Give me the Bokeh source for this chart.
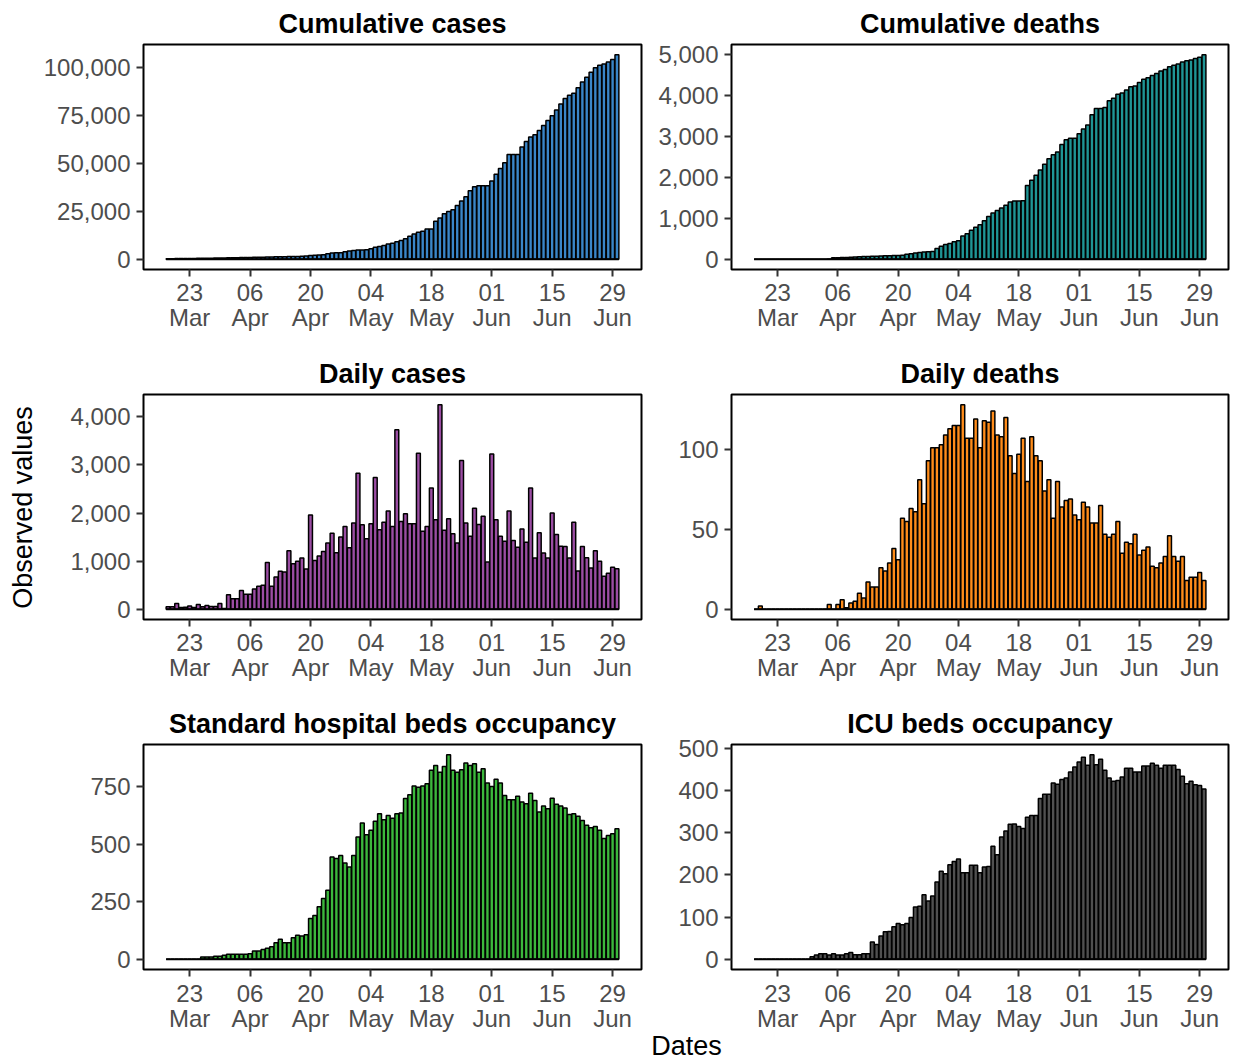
import math
import pandas as pd
from bokeh.plotting import figure
from bokeh.layouts import row, column
from bokeh.models import (FixedTicker, NumeralTickFormatter, DatetimeTickFormatter,
                          Range1d, ColumnDataSource)
from bokeh.core.properties import value
from bokeh.embed import file_html
from bokeh.resources import INLINE

# ---------------- data ----------------
dates = pd.date_range("2020-03-18", "2020-06-30", freq="D")
tick_dates = ["2020-03-23", "2020-04-06", "2020-04-20", "2020-05-04",
              "2020-05-18", "2020-06-01", "2020-06-15", "2020-06-29"]
tick_days = ["23", "06", "20", "04", "18", "01", "15", "29"]
tick_months = ["Mar", "Apr", "Apr", "May", "May", "Jun", "Jun", "Jun"]

cum_cases = [300, 320, 350, 380, 400, 420, 450, 480, 500, 520,
             550, 600, 650, 700, 750, 800, 850, 880, 900, 950,
             1000, 1050, 1100, 1150, 1200, 1250, 1300, 1350, 1400, 1450,
             1500, 1600, 1700, 2000, 2100, 2200, 2400, 2900, 3300, 3400,
             3400, 3900, 4300, 4600, 4800, 4800, 4900, 5500, 6200, 6700,
             7200, 7900, 8400, 9100, 9800, 10700, 12000, 13200, 14100, 14600,
             15800, 15800, 19800, 21500, 23700, 24900, 25800, 28000, 30400, 32600,
             35700, 37800, 38300, 38300, 38300, 40700, 44300, 47300, 50200, 54600,
             54600, 54600, 58400, 61300, 63600, 64800, 67000, 69600, 72200, 74700,
             77700, 80800, 83700, 85400, 86400, 89300, 92300, 94800, 97400, 99700,
             101000, 101700, 102700, 104000, 106500]

cum_deaths = [0, 2, 2, 2, 2, 2, 2, 2, 2, 2,
              2, 2, 2, 2, 2, 2, 2, 5, 35, 40,
              45, 45, 50, 55, 60, 65, 70, 75, 75, 80,
              85, 85, 90, 95, 100, 120, 135, 150, 165, 180,
              185, 190, 265, 320, 360, 385, 427, 450, 565, 620,
              710, 780, 845, 940, 1045, 1130, 1190, 1250, 1320, 1400,
              1420, 1420, 1430, 1800, 1930, 2050, 2175, 2320, 2455, 2550,
              2615, 2800, 2915, 2955, 2955, 3060, 3180, 3275, 3525, 3680,
              3680, 3705, 3865, 3930, 4025, 4058, 4130, 4210, 4228, 4310,
              4390, 4430, 4485, 4533, 4590, 4630, 4694, 4735, 4765, 4815,
              4845, 4863, 4895, 4930, 4990]

daily_cases = [50, 50, 120, 35, 40, 70, 35, 100, 50, 80,
               60, 60, 120, 15, 300, 220, 220, 390, 310, 310,
               420, 480, 500, 970, 480, 670, 790, 775, 1215, 945,
               1000, 1065, 835, 1960, 1015, 1105, 1200, 1375, 1580, 1175,
               1500, 1720, 1280, 1790, 2825, 1755, 1465, 1775, 2740, 1650,
               1810, 2040, 1720, 3730, 1825, 1985, 1775, 1775, 3240, 1620,
               1720, 2520, 1860, 4250, 1640, 1880, 1570, 1375, 3090, 1790,
               1515, 2100, 1760, 1935, 980, 3225, 1860, 1515, 1415, 2040,
               1430, 1290, 1670, 1395, 2520, 1065, 1590, 1170, 1065, 2000,
               1555, 1310, 1305, 1065, 1810, 795, 1305, 1070, 855, 1215,
               1000, 685, 750, 875, 840]

daily_deaths = [0, 2, 0, 0, 0, 0, 0, 0, 0, 0,
                0, 0, 0, 0, 0, 0, 0, 3, 0, 3,
                6, 1, 4, 5, 10, 7, 17, 14, 14, 26,
                24, 29, 38, 31, 57, 55, 63, 61, 81, 66,
                93, 101, 101, 103, 109, 113, 115, 115, 128, 107,
                107, 119, 101, 118, 117, 124, 109, 108, 120, 96,
                85, 97, 107, 80, 108, 96, 93, 74, 81, 57,
                80, 64, 68, 69, 59, 56, 67, 64, 54, 54,
                65, 47, 45, 47, 55, 35, 42, 41, 47, 34,
                37, 39, 27, 26, 29, 33, 46, 33, 30, 33,
                18, 20, 20, 23, 18]

std_beds = [0, 0, 0, 0, 0, 0, 0, 0, 10, 10,
            10, 13, 13, 17, 22, 22, 22, 22, 22, 24,
            36, 36, 43, 48, 54, 72, 87, 72, 72, 94,
            104, 101, 107, 177, 191, 228, 264, 300, 445, 438,
            452, 419, 401, 452, 532, 593, 542, 561, 601, 633,
            607, 626, 614, 633, 636, 699, 716, 754, 749, 754,
            764, 822, 843, 814, 839, 890, 822, 814, 825, 854,
            843, 851, 814, 829, 767, 752, 783, 767, 713, 694,
            694, 709, 684, 677, 722, 691, 641, 667, 655, 701,
            675, 667, 658, 630, 633, 622, 604, 583, 572, 578,
            561, 525, 539, 546, 568]

icu_beds = [0, 0, 0, 0, 0, 0, 0, 0, 0, 0,
            0, 0, 0, 6, 10, 13, 13, 10, 13, 10,
            10, 13, 16, 11, 11, 13, 13, 41, 35, 55,
            65, 66, 77, 85, 82, 85, 99, 124, 126, 153,
            138, 150, 183, 209, 203, 224, 232, 238, 205, 205,
            223, 223, 205, 219, 220, 268, 248, 290, 304, 320,
            321, 315, 310, 337, 341, 341, 381, 391, 391, 418,
            415, 426, 430, 444, 456, 468, 479, 460, 485, 461,
            474, 448, 430, 422, 424, 432, 453, 453, 444, 444,
            458, 458, 465, 460, 453, 460, 460, 460, 450, 434,
            416, 422, 414, 412, 404]

titles = ["Cumulative cases", "Cumulative deaths", "Daily cases",
          "Daily deaths", "Standard hospital beds occupancy", "ICU beds occupancy"]
series = [cum_cases, cum_deaths, daily_cases, daily_deaths, std_beds, icu_beds]
colors = ["#3A86C8", "#1F9595", "#9B4DA3", "#FF8C1A", "#3CB83C", "#505050"]
y_ticks = [[0, 25000, 50000, 75000, 100000],
           [0, 1000, 2000, 3000, 4000, 5000],
           [0, 1000, 2000, 3000, 4000],
           [0, 50, 100],
           [0, 250, 500, 750],
           [0, 100, 200, 300, 400, 500]]

FONT = "Liberation Sans"
TICK_COLOR = "#4D4D4D"
DAY_MS = 86400000
BAR_W = 0.9 * DAY_MS
HALF = pd.Timedelta(hours=10.8)
tick_ms = [pd.Timestamp(d).value // 10**6 for d in tick_dates]
fmt = "%d\n%b"
blank = ""

# x range: bar extent plus 5 % on each side (as in the original)
x_lo = (dates[0].value // 10**6) - BAR_W / 2
x_hi = (dates[-1].value // 10**6) + BAR_W / 2
x_pad = 0.05 * (x_hi - x_lo)
X_START, X_END = x_lo - x_pad, x_hi + x_pad
X_SPAN = X_END - X_START

# layout geometry (pixels)
FRAME_H = 225
TOP_B = 44
MID_B = 81
BOT_B = 12          # bottom row: only tick marks, labels drawn in the strip below
STRIP_H = 1061 - (700 + TOP_B + FRAME_H + BOT_B)
GRID_H = 1061
L_FW, L_BL, L_BR = 498, 103, 4
R_FW, R_BL, R_BR = 497, 86, 6


def panel(k):
    left_col = (k % 2 == 0)
    bottom_row = (k >= 4)
    fw = L_FW if left_col else R_FW
    ymax = max(series[k])
    p = figure(x_axis_type="datetime", output_backend="svg", toolbar_location=None,
               title=titles[k],
               x_range=Range1d(X_START, X_END),
               y_range=Range1d(-0.05 * ymax, 1.05 * ymax),
               frame_width=fw, frame_height=FRAME_H,
               min_border_left=L_BL if left_col else R_BL,
               min_border_right=L_BR if left_col else R_BR,
               min_border_top=TOP_B,
               min_border_bottom=BOT_B if bottom_row else MID_B)
    src = ColumnDataSource(dict(x=dates, y=series[k]))
    p.vbar(x="x", top="y", bottom=0, width=BAR_W, source=src,
           fill_color=colors[k], line_color="black", line_width=1.5)
    # bottom edge of the bar row (zero-height bars show as a line in the original)
    base = ColumnDataSource(dict(x0=[dates[0] - HALF], x1=[dates[-1] + HALF],
                                 y0=[0], y1=[0]))
    p.segment(x0="x0", x1="x1", y0="y0", y1="y1", source=base,
              line_color="black", line_width=2)
    p.title.align = "center"
    p.title.text_font = FONT
    p.title.text_font_size = "27px"
    p.title.text_font_style = "bold"
    p.title.text_color = "black"
    p.title.standoff = 11
    p.xaxis.ticker = FixedTicker(ticks=tick_ms)
    f = blank if bottom_row else fmt
    p.xaxis.formatter = DatetimeTickFormatter(
        microseconds=f, milliseconds=f, seconds=f, minsec=f, minutes=f,
        hourmin=f, hours=f, days=f, months=f, years=f)
    p.yaxis.ticker = FixedTicker(ticks=y_ticks[k])
    p.yaxis.formatter = NumeralTickFormatter(format="0,0")
    for ax in (p.xaxis[0], p.yaxis[0]):
        ax.axis_line_color = None
        ax.major_tick_line_color = "#333333"
        ax.major_tick_line_width = 2
        ax.major_tick_in = 0
        ax.major_tick_out = 7
        ax.minor_tick_line_color = None
        ax.major_label_text_font = FONT
        ax.major_label_text_font_size = "24px"
        ax.major_label_text_color = TICK_COLOR
        ax.major_label_text_line_height = 0.93
    p.xaxis.major_label_standoff = 2
    p.yaxis.major_label_standoff = 6
    if bottom_row:
        p.xaxis.major_label_text_font_size = "1px"
        p.xaxis.major_label_standoff = 0
    p.grid.visible = False
    p.outline_line_color = "black"
    p.outline_line_width = 2
    p.outline_line_alpha = 1.0
    p.background_fill_color = "white"
    p.border_fill_color = "white"
    return p


figs = [panel(k) for k in range(6)]


def strip(left_col):
    # label strip under the bottom row, sharing the panel's date scale
    if left_col:
        fw, bl, br = L_FW, L_BL, L_BR
    else:
        fw, bl, br = R_FW, R_BL, R_BR
    ms_per_px = X_SPAN / fw
    s = figure(frame_width=bl + fw + br, frame_height=STRIP_H,
               x_range=Range1d(X_START - bl * ms_per_px, X_END + br * ms_per_px),
               y_range=Range1d(0, STRIP_H), min_border=0, toolbar_location=None,
               output_backend="svg", x_axis_type=None, y_axis_type=None)
    s.outline_line_color = None
    s.grid.visible = False
    s.background_fill_color = "white"
    s.border_fill_color = "white"
    lab = ColumnDataSource(dict(x=tick_ms, d=tick_days, m=tick_months,
                                yd=[STRIP_H - 12] * len(tick_ms),
                                ym=[STRIP_H - 37] * len(tick_ms)))
    s.text(x="x", y="yd", text="d", source=lab, text_align="center",
           text_baseline="middle", text_font=value(FONT), text_font_size="24px",
           text_color=TICK_COLOR)
    s.text(x="x", y="ym", text="m", source=lab, text_align="center",
           text_baseline="middle", text_font=value(FONT), text_font_size="24px",
           text_color=TICK_COLOR)
    if not left_col:
        # shared x-axis title, centred between the two columns (45 px left of frame)
        s.text(x=[X_START - 45 * ms_per_px], y=[16], text=["Dates"],
               text_align="center", text_baseline="middle",
               text_font=value(FONT), text_font_size="27px", text_color="black")
    return s


# y-axis label strip
ylab = figure(frame_width=40, frame_height=GRID_H, x_range=Range1d(0, 40),
              y_range=Range1d(0, GRID_H), min_border=0, toolbar_location=None,
              output_backend="svg", x_axis_type=None, y_axis_type=None)
ylab.outline_line_color = None
ylab.grid.visible = False
ylab.text(x=[22], y=[GRID_H - 507], text=["Observed values"], angle=math.pi / 2,
          text_align="center", text_baseline="middle", text_font=value(FONT),
          text_font_size="27px", text_color="black")

grid = column(row(figs[0], figs[1]), row(figs[2], figs[3]), row(figs[4], figs[5]),
              row(strip(True), strip(False)))
layout = row(ylab, grid)

open("out.html", "w").write(file_html(layout, INLINE))
